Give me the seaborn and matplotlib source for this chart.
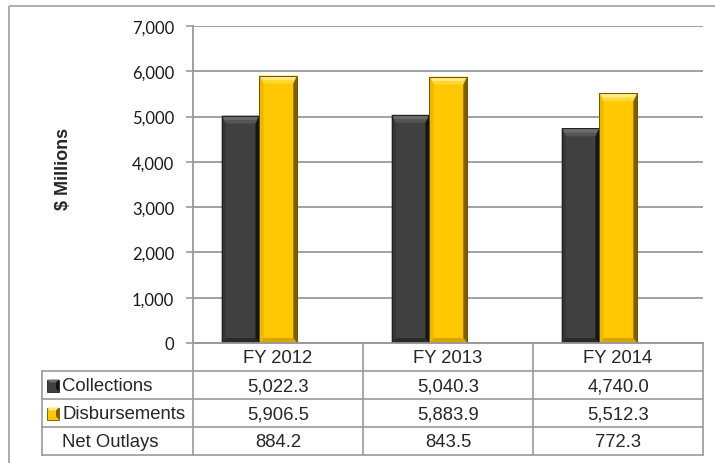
import matplotlib
matplotlib.use("Agg")
import matplotlib.pyplot as plt
from matplotlib.patches import Polygon, Rectangle
from matplotlib.lines import Line2D
import pandas as pd
import seaborn as sns

# ---- data -------------------------------------------------------------
years = ["FY 2012", "FY 2013", "FY 2014"]
collections = [5022.3, 5040.3, 4740.0]
disbursements = [5906.5, 5883.9, 5512.3]
net_outlays = [884.2, 843.5, 772.3]
series_names = ["Collections", "Disbursements"]
row_labels = ["Collections", "Disbursements", "Net Outlays"]
y_ticks = [0, 1000, 2000, 3000, 4000, 5000, 6000, 7000]
y_label = "$ Millions"

# ---- styling ----------------------------------------------------------
colors = {
    "Collections": dict(base="#404040", top="#6a6a6a", top2="#555555",
                        left="#353535", right="#141414", bottom="#2a2a2a",
                        edge="#202020"),
    "Disbursements": dict(base="#FFC800", top="#FFE880", top2="#FFD830",
                          left="#EDB800", right="#7E6000", bottom="#D9A500",
                          edge="#6E5200"),
}
line_gray = "#9a9a9a"
W, H = 715, 464

sns.set_style("white")
plt.rcParams["font.family"] = ["Liberation Sans", "DejaVu Sans"]

fig = plt.figure(figsize=(W / 100, H / 100), dpi=100)


def fx(px):
    return px / W


def fy(py):
    return 1 - py / H


# plot area
ax_l, ax_r, ax_t, ax_b = 193, 703, 27, 344
ax = fig.add_axes([fx(ax_l), fy(ax_b), fx(ax_r) - fx(ax_l), fy(ax_t) - fy(ax_b)])

df = pd.DataFrame({
    "Year": years * 2,
    "Value": collections + disbursements,
    "Series": [series_names[0]] * 3 + [series_names[1]] * 3,
})

sns.barplot(data=df, x="Year", y="Value", hue="Series", hue_order=series_names,
            order=years, palette={k: v["base"] for k, v in colors.items()},
            width=0.445, gap=0, saturation=1, legend=False, ax=ax, zorder=3)

ax.set_xlim(-0.391, 2.609)
ax.set_ylim(0, 7000)
ax.set_yticks(y_ticks)
ax.set_yticklabels([f"{t:,}" for t in y_ticks], family=["Lato", "DejaVu Sans"],
                   fontsize=12, color="#1a1a1a")
ax.set_xticks([])
ax.set_xlabel("")
ax.set_ylabel("")
ax.grid(axis="y", color=line_gray, lw=1.3, zorder=0)
ax.set_axisbelow(True)
for s in ["top", "right"]:
    ax.spines[s].set_visible(False)
for s in ["left", "bottom"]:
    ax.spines[s].set_color(line_gray)
    ax.spines[s].set_linewidth(1.3)
ax.tick_params(axis="y", direction="out", length=5, width=1.2, color=line_gray,
               pad=8.5, left=True)

# bevelled bar faces (sizes in pixels, converted to data units)
xr = ax.get_xlim()[1] - ax.get_xlim()[0]
px_x = xr / (ax_r - ax_l)
px_y = 7000 / (ax_b - ax_t)
side, top_h, bot_h = 4 * px_x, 8 * px_y, 5 * px_y
bars = [p for p in ax.patches if p.get_height() > 0]
for p in bars:
    x0 = p.get_x()
    x1 = x0 + p.get_width()
    y1 = p.get_height()
    r, g, b, _ = p.get_facecolor()
    key = "Collections" if r < 0.5 else "Disbursements"
    c = colors[key]
    p.set_edgecolor("none")

    def poly(pts, fc):
        ax.add_patch(Polygon(pts, closed=True, facecolor=fc, edgecolor="none",
                             zorder=4))

    # bottom, top (two tones), left, right
    poly([(x0, 0), (x1, 0), (x1 - side, bot_h), (x0 + side, bot_h)], c["bottom"])
    poly([(x0, y1), (x1, y1), (x1 - side, y1 - top_h), (x0 + side, y1 - top_h)],
         c["top2"])
    poly([(x0 + side * 0.3, y1 - top_h * 0.05), (x1 - side * 0.3, y1 - top_h * 0.05),
          (x1 - side * 0.8, y1 - top_h * 0.55), (x0 + side * 0.8, y1 - top_h * 0.55)],
         c["top"])
    poly([(x0, 0), (x0, y1), (x0 + side, y1 - top_h), (x0 + side, bot_h)], c["left"])
    poly([(x1, 0), (x1, y1), (x1 - side, y1 - top_h), (x1 - side, bot_h)], c["right"])
    ax.add_patch(Rectangle((x0, 0), p.get_width(), y1, facecolor="none",
                           edgecolor=c["edge"], lw=0.7, zorder=5))

# overlay in pixel coordinates for frame, axis title and data table
ov = fig.add_axes([0, 0, 1, 1])
ov.set_xlim(0, W)
ov.set_ylim(H, 0)
ov.axis("off")
ov.patch.set_alpha(0)

# outer frame
ov.add_patch(Rectangle((9, 7), W + 20, H + 20, facecolor="none",
                       edgecolor="#a6a6a6", lw=1.3))

ov.text(63, 169, y_label, rotation=90, ha="center", va="center",
        fontsize=13, fontweight="bold")

# data table
col_edges = [193, 363, 533, 703]
row_edges = [344, 372, 400, 428, 456]
label_left = 42
tkw = dict(color=line_gray, lw=1.2)
ov.add_line(Line2D([col_edges[0], col_edges[-1]], [row_edges[0]] * 2, **tkw))
for yy in row_edges[1:]:
    ov.add_line(Line2D([label_left, col_edges[-1]], [yy, yy], **tkw))
for xx in col_edges:
    ov.add_line(Line2D([xx, xx], [row_edges[0], row_edges[-1]], **tkw))
ov.add_line(Line2D([label_left, label_left], [row_edges[1], row_edges[-1]], **tkw))

fs = 13.3
for i, yr in enumerate(years):
    cx = (col_edges[i] + col_edges[i + 1]) / 2
    ov.text(cx, (row_edges[0] + row_edges[1]) / 2 + 1, yr, ha="center",
            va="center", fontsize=fs)
table_vals = [collections, disbursements, net_outlays]
for r, (lab, vals) in enumerate(zip(row_labels, table_vals)):
    cy = (row_edges[r + 1] + row_edges[r + 2]) / 2 + 1
    ov.text(62, cy, lab, ha="left", va="center", fontsize=fs)
    for i, v in enumerate(vals):
        cx = (col_edges[i] + col_edges[i + 1]) / 2
        ov.text(cx, cy, f"{v:,.1f}", ha="center", va="center", fontsize=fs)
    if lab in colors:
        c = colors[lab]
        kx, ky, ks = 47, cy - 6.5, 12
        ov.add_patch(Rectangle((kx, ky), ks, ks, facecolor=c["base"],
                               edgecolor=c["edge"], lw=0.6))
        ov.add_patch(Polygon([(kx, ky), (kx + ks, ky), (kx + ks - 3, ky + 3),
                              (kx + 3, ky + 3)], closed=True,
                             facecolor=c["top"], edgecolor="none"))
        ov.add_patch(Polygon([(kx + ks, ky), (kx + ks, ky + ks),
                              (kx + ks - 3, ky + ks - 3), (kx + ks - 3, ky + 3)],
                             closed=True, facecolor=c["right"], edgecolor="none"))

fig.savefig("out.png", dpi=100)
